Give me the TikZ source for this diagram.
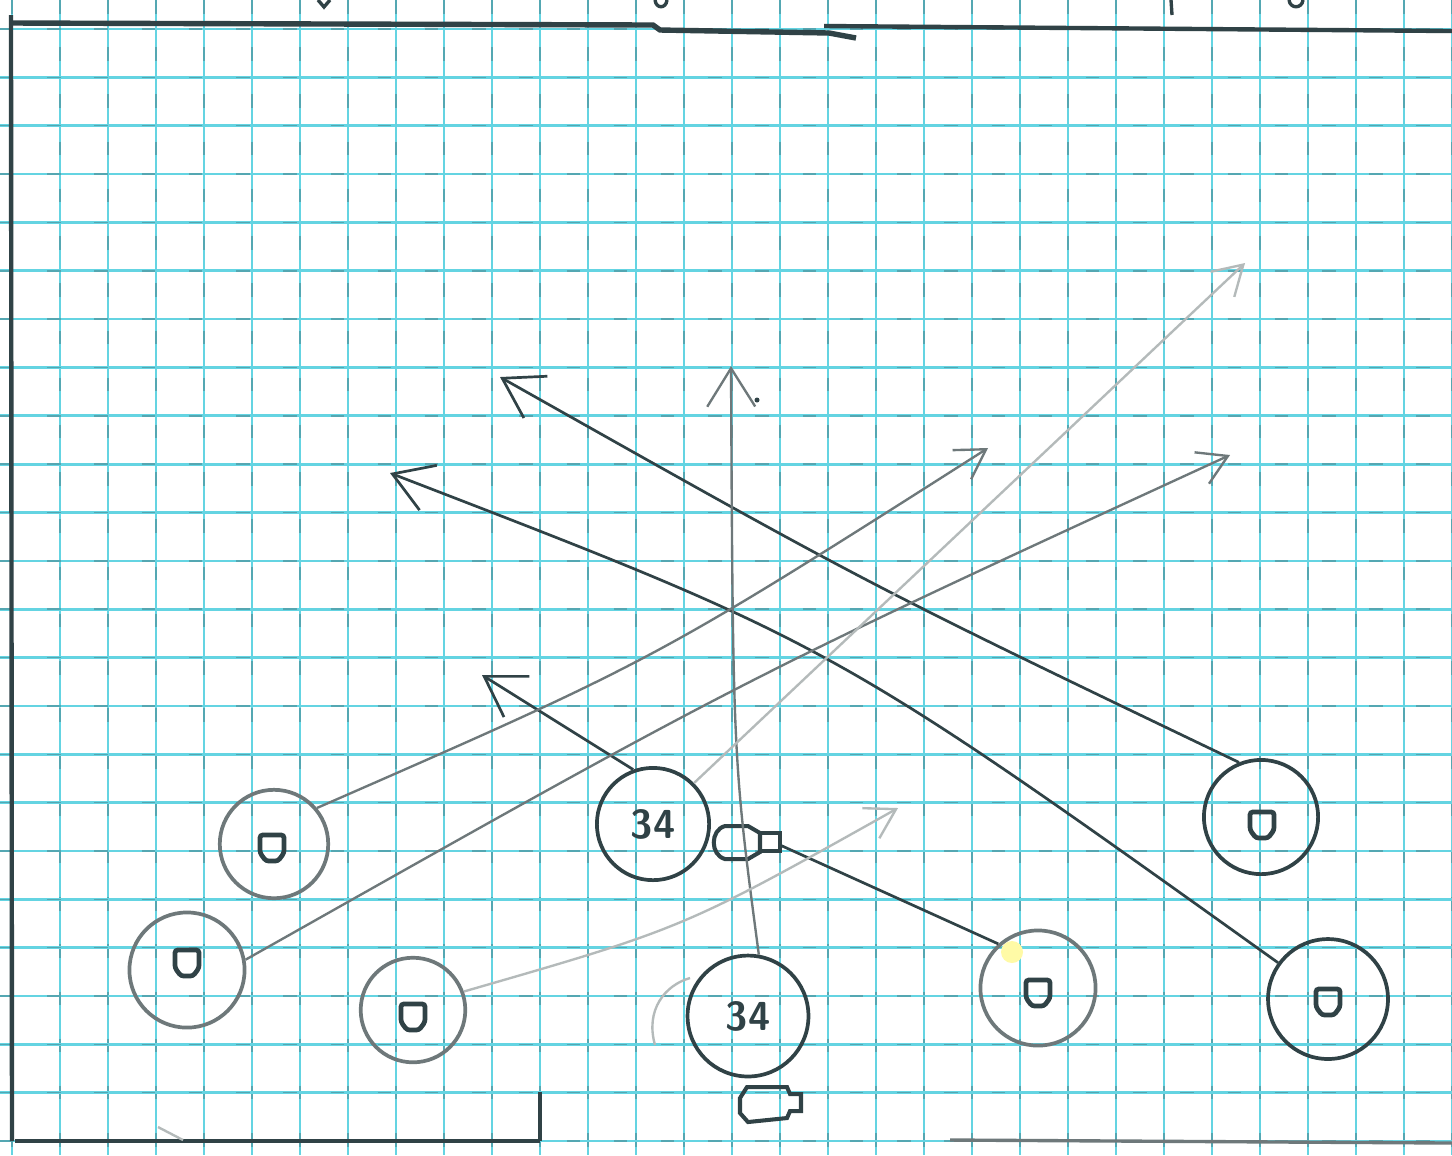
\documentclass[tikz,border=0pt]{standalone}
\usepackage{tikz}
\usepackage{xcolor}
\usetikzlibrary{arrows.meta, positioning}
\definecolor{gridcyan}{RGB}{100,212,226}
\definecolor{pencil}{RGB}{48,66,70}
\definecolor{midpencil}{RGB}{110,120,122}
\definecolor{lightpencil}{RGB}{180,186,186}

\begin{document}
\begin{tikzpicture}[
  gridline/.style={gridcyan, line width=0.8pt},
  gridmark/.style={pencil, line width=0.45pt, dash pattern=on 4pt off 10pt, opacity=0.3},
  player/.style={circle, draw=pencil, line width=1.1pt, inner sep=0pt, minimum size=1.18cm, text=pencil, font=\sffamily\fontsize{12}{14}\selectfont},
  bigtip/.style={-{Straight Barb[length=4mm,width=5mm]}},
  smalltip/.style={-{Straight Barb[length=3mm,width=3.6mm]}},
  route/.style={pencil, line width=0.8pt},
  lightroute/.style={midpencil, line width=0.7pt},
  faint/.style={lightpencil, line width=0.7pt},
  shield/.pic={\draw[pencil, line width=1.4pt, rounded corners=0.8pt] (-12,-13) -- (12,-13) -- (12,5) -- (6,13) -- (-6,13) -- (-12,5) -- cycle;}
]
\begin{scope}[x=0.0104167cm,y=-0.0104167cm]
  \useasboundingbox (0,0) rectangle (1452,1155);
  \fill[white] (0,0) rectangle (1452,1155);
  \foreach \k in {0,...,30} {
    \draw[gridline] ({12+48*\k},0) -- ({12+48*\k},1155);
    \draw[gridmark] ({12+48*\k},0) -- ({12+48*\k},1155);
  }
  \foreach \k in {0,...,23} {
    \draw[gridline] (0,{29+48.35*\k}) -- (1452,{29+48.35*\k});
    \draw[gridmark] (0,{29+48.35*\k}) -- (1452,{29+48.35*\k});
  }

  \draw[pencil, line width=1.6pt] (11,23) -- (653,25) -- (660,30) -- (829,33) -- (856,38);
  \draw[pencil, line width=1.3pt] (824,26) -- (1452,31);
  \draw[pencil, line width=1.3pt] (11,15) -- (12,1141);
  \draw[pencil, line width=1.1pt] (15,1141) -- (540,1141);
  \draw[pencil, line width=1.1pt] (540,1092) -- (540,1141);
  \draw[midpencil, line width=1pt] (950,1140) -- (1452,1143);
  \draw[pencil, line width=1pt] (318,0) -- (324,7) -- (330,0);
  \draw[pencil, line width=1pt] (655,0) .. controls (656,9) and (666,9) .. (667,0);
  \draw[pencil, line width=1pt] (1171,0) -- (1172,15);
  \draw[pencil, line width=1pt] (1289,0) .. controls (1290,9) and (1302,9) .. (1303,0);

  \fill[yellow!35] (1012,952) circle (11);
  \node[player, minimum size=1.13cm, draw=midpencil] (p1) at (274,844) {};
  \node[player, minimum size=1.20cm, draw=midpencil] (p2) at (187,970) {};
  \node[player, minimum size=1.09cm, draw=midpencil] (p3) at (413,1010) {};
  \node[player, minimum size=1.17cm] (p4) at (653,824) {\textbf{34}};
  \node[player, minimum size=1.26cm] (p5) at (748,1016) {\textbf{34}};
  \node[player, minimum size=1.20cm, draw=midpencil] (p6) at (1038,988) {};
  \node[player, minimum size=1.19cm] (p7) at (1261,817) {};
  \node[player, minimum size=1.25cm] (p8) at (1328,999) {};
  \pic at (272,848) {shield};
  \pic at (187,963) {shield};
  \pic at (413,1017) {shield};
  \pic at (1038,993) {shield};
  \pic at (1262,825) {shield};
  \pic at (1328,1002) {shield};

  \draw[pencil, line width=1.2pt] (760,833) -- (748,826) -- (725,826) .. controls (710,830) and (710,855) .. (725,859) -- (748,859) -- (760,852) -- cycle;
  \draw[pencil, line width=1.2pt] (760,833) rectangle (780,851);
  \coordinate (ball1) at (780,845);
  \draw[pencil, line width=1.2pt] (747,1087) -- (787,1087) -- (790,1094) -- (801,1094) -- (801,1111) -- (790,1111) -- (787,1118) -- (748,1122) -- (740,1113) -- (740,1098) -- cycle;

  \coordinate (tipA) at (500,377);
  \coordinate (tipB) at (390,473);
  \coordinate (tipC) at (482,675);
  \coordinate (tipE) at (731,366);
  \coordinate (tipF) at (988,448);
  \coordinate (tipG) at (1230,455);
  \coordinate (tipH) at (898,808);
  \coordinate (tipI) at (1245,263);

  \draw[route, bigtip] (p7.112) .. controls (867,584) .. (tipA);
  \draw[route, bigtip] (p8.144) .. controls (831,643) .. (tipB);
  \draw[route, bigtip] (p4.110) -- (tipC);
  \draw[route] (ball1) -- (p6.132);
  \draw[lightroute, bigtip] (p5.80) .. controls (733,760) .. (tipE);
  \fill[pencil] (757,400) circle (2.5);
  \draw[lightroute, smalltip] (p1.40) .. controls (655,660) .. (tipF);
  \draw[lightroute, smalltip] (p2.10) .. controls (741,680) .. (tipG);
  \draw[faint, smalltip] (p3.20) .. controls (684,928) .. (tipH);
  \draw[faint, smalltip] (p4.45) -- (tipI);

  \draw[faint] (655,1045) .. controls (645,1010) and (665,985) .. (690,978);
  \draw[faint] (158,1127) -- (183,1140);
\end{scope}
\end{tikzpicture}
\end{document}
